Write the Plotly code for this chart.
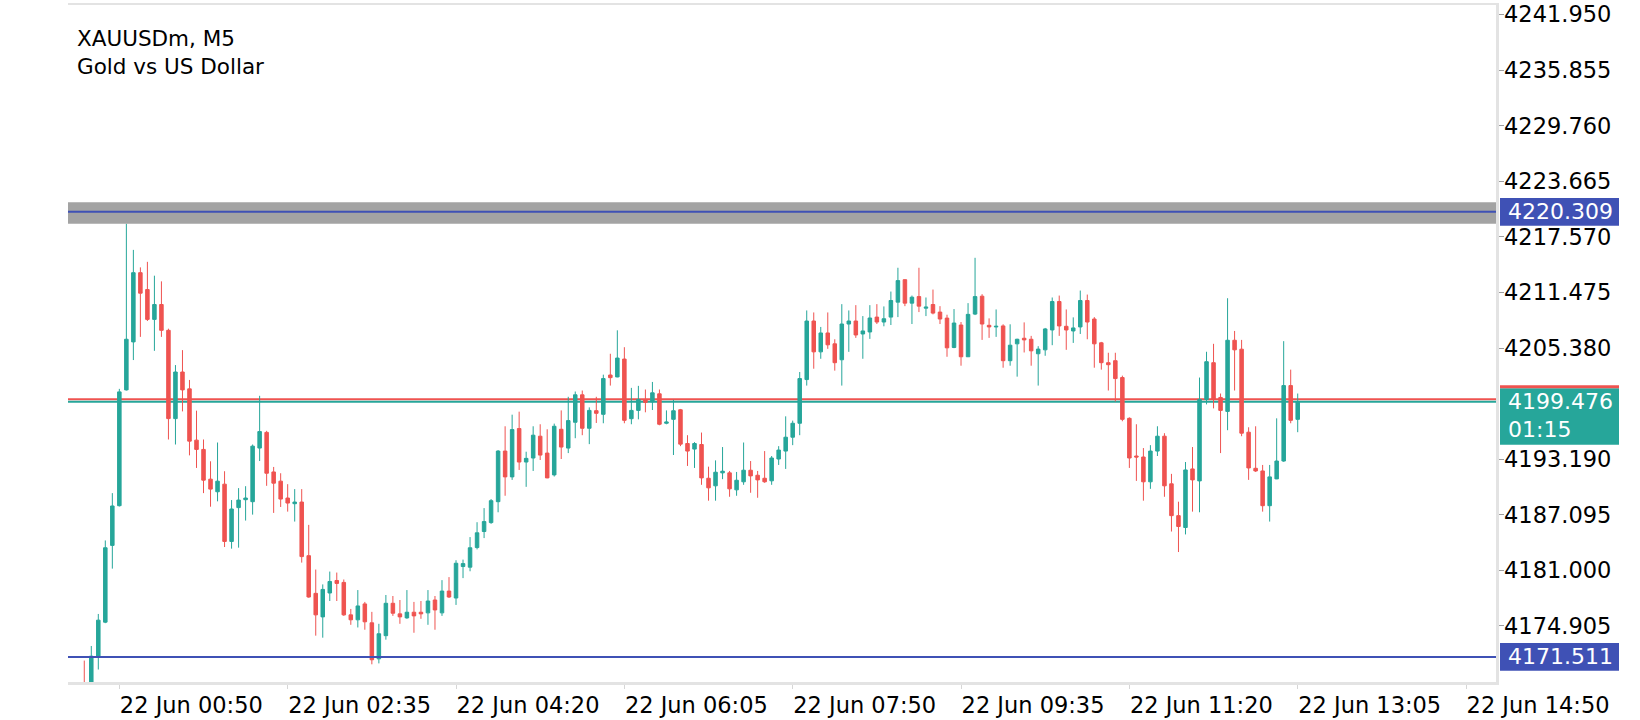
import plotly.graph_objects as go

# ---------------- data ----------------
symbol_line = "XAUUSDm, M5"
desc_line = "Gold vs US Dollar"

opens = [
    4168.60, 4167.20, 4171.53, 4175.32, 4183.74, 4188.09, 4200.79, 4206.05, 4213.64, 4211.79,
    4208.52, 4210.15, 4207.32, 4197.64, 4202.75, 4200.90, 4195.28, 4194.26, 4191.00, 4189.62,
    4190.45, 4184.17, 4187.88, 4188.75, 4188.53, 4194.41, 4196.13, 4191.79, 4190.78, 4188.93,
    4188.31, 4188.49, 4182.61, 4178.48, 4175.90, 4178.52, 4179.89, 4179.68, 4176.12, 4175.58,
    4177.32, 4175.25, 4171.30, 4173.84, 4177.39, 4176.23, 4175.79, 4176.41, 4176.41, 4176.34,
    4177.75, 4176.34, 4178.73, 4177.97, 4181.42, 4181.35, 4183.50, 4185.26, 4186.24, 4188.53,
    4194.08, 4191.25, 4196.55, 4192.88, 4193.32, 4195.71, 4193.86, 4191.47, 4196.47, 4194.41,
    4197.24, 4200.25, 4196.58, 4198.51, 4198.11, 4202.42, 4202.21, 4204.17, 4197.63, 4198.54,
    4199.70, 4199.48, 4200.36, 4197.13, 4197.56, 4198.61, 4194.91, 4194.30, 4194.80, 4191.10,
    4190.27, 4191.69, 4191.69, 4189.83, 4190.71, 4191.98, 4191.43, 4191.10, 4190.82, 4193.21,
    4194.08, 4195.60, 4197.13, 4201.92, 4208.34, 4204.96, 4207.03, 4205.84, 4204.09, 4208.01,
    4208.34, 4206.92, 4207.14, 4208.77, 4208.23, 4208.77, 4210.41, 4212.87, 4210.30, 4211.02,
    4209.75, 4210.15, 4209.32, 4208.66, 4205.44, 4207.90, 4204.42, 4209.10, 4211.06, 4207.87,
    4207.69, 4207.80, 4203.99, 4205.84, 4206.45, 4206.34, 4204.75, 4205.18, 4207.36, 4210.48,
    4207.76, 4207.25, 4207.69, 4210.59, 4208.56, 4205.95, 4203.77, 4203.99, 4202.14, 4197.67,
    4193.54, 4193.43, 4190.71, 4194.08, 4195.71, 4190.49, 4187.00, 4185.70, 4192.12, 4190.81,
    4199.74, 4203.77, 4199.96, 4198.43, 4206.23, 4205.25, 4196.15, 4192.19, 4191.90, 4188.09,
    4191.03, 4192.99, 4201.26, 4197.56,
]
highs = [
    4171.11, 4172.71, 4176.22, 4184.28, 4189.47, 4200.90, 4219.01, 4216.14, 4214.22, 4214.83,
    4213.31, 4212.69, 4207.50, 4203.51, 4205.15, 4201.88, 4198.51, 4195.35, 4192.96, 4195.02,
    4191.87, 4188.71, 4190.02, 4190.23, 4194.80, 4200.14, 4196.30, 4192.34, 4191.65, 4190.45,
    4189.91, 4189.91, 4185.99, 4181.09, 4179.46, 4180.87, 4180.76, 4180.00, 4176.77, 4178.84,
    4177.54, 4176.45, 4175.14, 4178.30, 4178.19, 4177.75, 4178.84, 4177.54, 4177.64, 4178.84,
    4178.19, 4179.93, 4180.26, 4182.11, 4182.18, 4184.65, 4186.28, 4187.83, 4188.82, 4194.19,
    4196.80, 4198.07, 4198.40, 4194.01, 4196.80, 4197.02, 4196.47, 4197.09, 4198.54, 4200.03,
    4200.61, 4200.72, 4198.87, 4200.03, 4202.46, 4204.75, 4207.32, 4205.47, 4201.01, 4201.23,
    4200.83, 4201.66, 4200.83, 4198.54, 4199.70, 4198.70, 4195.82, 4195.06, 4196.11, 4192.37,
    4193.06, 4194.52, 4191.90, 4191.79, 4195.02, 4192.99, 4191.90, 4194.08, 4193.54, 4194.62,
    4197.89, 4197.42, 4202.75, 4209.50, 4209.28, 4207.69, 4209.28, 4206.34, 4210.19, 4209.50,
    4210.08, 4208.88, 4210.08, 4210.19, 4209.94, 4211.57, 4214.18, 4212.90, 4211.13, 4214.18,
    4210.92, 4211.79, 4209.97, 4209.03, 4209.65, 4208.23, 4210.30, 4215.27, 4211.28, 4208.63,
    4209.61, 4207.98, 4207.98, 4206.40, 4208.19, 4206.71, 4205.58, 4207.58, 4210.92, 4211.13,
    4209.61, 4208.74, 4211.68, 4211.24, 4208.77, 4206.05, 4204.86, 4204.86, 4202.35, 4197.78,
    4197.02, 4194.41, 4194.73, 4196.80, 4196.04, 4191.58, 4188.53, 4192.88, 4194.52, 4202.14,
    4204.97, 4205.84, 4200.39, 4210.84, 4207.25, 4206.27, 4196.69, 4196.80, 4192.56, 4192.56,
    4197.67, 4206.13, 4203.01, 4200.39,
]
lows = [
    4165.80, 4166.50, 4170.13, 4175.21, 4181.19, 4188.00, 4200.72, 4204.06, 4206.60, 4208.34,
    4205.07, 4206.60, 4195.35, 4194.80, 4198.43, 4193.61, 4192.23, 4189.47, 4187.98, 4188.57,
    4183.56, 4183.38, 4183.49, 4186.46, 4187.11, 4192.99, 4190.27, 4187.30, 4187.95, 4187.44,
    4186.35, 4181.85, 4178.00, 4173.84, 4173.62, 4177.64, 4177.64, 4176.01, 4175.03, 4174.74,
    4174.49, 4170.70, 4170.80, 4173.40, 4176.01, 4175.14, 4175.69, 4174.16, 4175.69, 4175.03,
    4174.49, 4176.01, 4177.97, 4177.21, 4180.15, 4180.90, 4183.30, 4184.54, 4186.10, 4187.37,
    4189.18, 4190.92, 4192.01, 4190.16, 4191.90, 4193.10, 4191.10, 4191.29, 4193.21, 4193.86,
    4195.49, 4195.82, 4194.84, 4197.16, 4197.13, 4201.26, 4202.17, 4197.13, 4197.02, 4197.56,
    4198.33, 4198.58, 4196.91, 4197.02, 4193.65, 4194.62, 4192.45, 4192.23, 4190.38, 4188.64,
    4188.64, 4191.00, 4189.07, 4189.18, 4190.38, 4189.51, 4188.96, 4190.60, 4190.38, 4192.56,
    4192.12, 4194.73, 4195.82, 4201.26, 4203.11, 4204.20, 4205.29, 4202.90, 4201.26, 4204.96,
    4206.49, 4204.20, 4206.38, 4208.01, 4207.76, 4207.90, 4208.77, 4209.97, 4208.01, 4209.32,
    4208.88, 4209.07, 4208.01, 4204.42, 4205.36, 4203.44, 4204.40, 4208.99, 4206.27, 4206.49,
    4206.60, 4203.22, 4203.44, 4202.24, 4204.89, 4203.44, 4201.26, 4204.53, 4205.69, 4206.71,
    4205.18, 4205.94, 4206.92, 4206.34, 4203.22, 4203.01, 4200.72, 4199.52, 4197.35, 4192.23,
    4190.81, 4188.64, 4189.94, 4193.54, 4189.07, 4185.26, 4183.01, 4184.94, 4187.44, 4187.37,
    4199.20, 4198.76, 4193.86, 4196.37, 4200.72, 4195.71, 4190.92, 4191.79, 4187.44, 4186.35,
    4191.00, 4192.90, 4197.13, 4196.15,
]
closes = [
    4167.20, 4171.59, 4175.54, 4183.48, 4188.06, 4200.57, 4206.34, 4213.64, 4211.39, 4208.52,
    4210.15, 4207.32, 4197.64, 4202.75, 4200.79, 4195.17, 4194.26, 4190.89, 4189.91, 4190.78,
    4184.17, 4187.73, 4188.71, 4188.93, 4194.62, 4196.22, 4191.65, 4190.56, 4188.82, 4188.38,
    4188.49, 4182.51, 4178.08, 4176.12, 4178.91, 4179.78, 4179.57, 4176.12, 4175.58, 4177.10,
    4175.36, 4171.20, 4174.05, 4177.39, 4176.30, 4175.90, 4176.41, 4176.01, 4176.23, 4177.64,
    4176.66, 4178.73, 4178.08, 4181.78, 4181.74, 4183.48, 4185.12, 4186.35, 4188.64, 4194.08,
    4191.25, 4196.44, 4192.88, 4193.28, 4195.82, 4193.64, 4191.14, 4196.80, 4194.52, 4197.42,
    4200.25, 4196.58, 4198.54, 4198.22, 4202.03, 4202.13, 4204.28, 4197.45, 4198.54, 4199.74,
    4199.41, 4200.47, 4197.02, 4197.27, 4198.50, 4194.84, 4194.08, 4194.91, 4191.14, 4190.05,
    4191.76, 4191.87, 4189.94, 4190.88, 4191.98, 4191.36, 4190.92, 4190.71, 4193.32, 4194.19,
    4195.60, 4197.13, 4202.03, 4208.34, 4204.96, 4207.03, 4205.73, 4203.77, 4208.01, 4208.34,
    4206.81, 4207.25, 4208.67, 4208.23, 4208.59, 4210.59, 4212.77, 4210.30, 4210.95, 4209.97,
    4209.86, 4209.21, 4208.56, 4205.40, 4208.12, 4204.42, 4209.07, 4211.02, 4208.01, 4207.69,
    4207.76, 4203.99, 4205.69, 4206.34, 4206.27, 4205.07, 4205.26, 4207.47, 4210.48, 4207.80,
    4207.36, 4207.58, 4210.59, 4208.23, 4205.84, 4203.77, 4203.55, 4202.03, 4197.56, 4193.32,
    4193.43, 4190.71, 4194.08, 4195.71, 4190.27, 4187.00, 4185.81, 4192.01, 4190.92, 4199.74,
    4203.88, 4199.74, 4198.54, 4206.23, 4205.18, 4196.04, 4192.23, 4191.90, 4188.09, 4191.25,
    4192.99, 4201.26, 4197.45, 4199.476,
]

tick_bars = [5, 29, 53, 77, 101, 125, 149, 173, 197]
tick_labels = ["22 Jun 00:50", "22 Jun 02:35", "22 Jun 04:20", "22 Jun 06:05",
               "22 Jun 07:50", "22 Jun 09:35", "22 Jun 11:20", "22 Jun 13:05",
               "22 Jun 14:50"]
price_ticks = [4241.950, 4235.855, 4229.760, 4223.665, 4217.570, 4211.475,
               4205.380, 4193.190, 4187.095, 4181.000, 4174.905]
level_lines = [4220.309, 4171.511]
bid_price = 4199.476
ask_price = 4199.756
timer_text = "01:15"

# ---------------- style ----------------
W, H = 1640, 720
M_L, M_R, M_T, M_B = 68, 144, 2, 36
X_RANGE = [-2.32, 201.27]
Y_RANGE = [4168.76, 4242.99]
FONT = "DejaVu Sans"
UP, DOWN = "#26a69a", "#ef5350"
BLUE = "#3f51b5"
FRAME = "#e3e3e3"

bars = list(range(len(opens)))

fig = go.Figure()
fig.add_trace(go.Candlestick(
    x=bars, open=opens, high=highs, low=lows, close=closes,
    increasing=dict(line=dict(color=UP, width=1), fillcolor=UP),
    decreasing=dict(line=dict(color=DOWN, width=1), fillcolor=DOWN),
    whiskerwidth=0, hoverinfo="skip", showlegend=False,
))

shapes = []
# bid / ask lines
for price, col in ((ask_price, DOWN), (bid_price, UP)):
    shapes.append(dict(type="line", xref="paper", x0=0, x1=1, yref="y",
                       y0=price, y1=price, line=dict(color=col, width=2),
                       layer="below"))
# selected level highlight band
shapes.append(dict(type="rect", xref="paper", x0=0, x1=1, yref="y",
                   ysizemode="pixel", yanchor=level_lines[0], y0=-12, y1=9.7,
                   fillcolor="#a3a3a3", line=dict(width=0), layer="above"))
for lv in level_lines:
    shapes.append(dict(type="line", xref="paper", x0=0, x1=1, yref="y",
                       y0=lv, y1=lv, line=dict(color=BLUE, width=2),
                       layer="above"))
    shapes.append(dict(type="rect", xref="paper", xsizemode="pixel", xanchor=1,
                       x0=4, x1=123, yref="y", ysizemode="pixel", yanchor=lv,
                       y0=-13.8, y1=13.8, fillcolor=BLUE, line=dict(width=0),
                       layer="above"))
# bid price box (green) with red top strip
shapes.append(dict(type="rect", xref="paper", xsizemode="pixel", xanchor=1,
                   x0=4, x1=123, yref="y", ysizemode="pixel", yanchor=bid_price,
                   y0=-42.9, y1=13.5, fillcolor=UP, line=dict(width=0),
                   layer="above"))
shapes.append(dict(type="rect", xref="paper", xsizemode="pixel", xanchor=1,
                   x0=4, x1=123, yref="y", ysizemode="pixel", yanchor=bid_price,
                   y0=13.5, y1=16.5, fillcolor=DOWN, line=dict(width=0),
                   layer="above"))

annotations = [
    dict(text=f"{symbol_line}<br>{desc_line}", xref="paper", yref="paper",
         x=0, y=1, xanchor="left", yanchor="top", xshift=7, yshift=-19,
         align="left", showarrow=False,
         font=dict(family=FONT, size=21.5, color="#000000")),
]
for lv in level_lines:
    annotations.append(dict(text=f"{lv:.3f}", xref="paper", x=1, xanchor="left",
                            xshift=10, yref="y", y=lv, yanchor="middle",
                            showarrow=False,
                            font=dict(family=FONT, size=22, color="#ffffff")))
annotations.append(dict(text=f"{bid_price:.3f}", xref="paper", x=1, xanchor="left",
                        xshift=10, yref="y", y=bid_price, yanchor="middle",
                        showarrow=False,
                        font=dict(family=FONT, size=22, color="#ffffff")))
annotations.append(dict(text=timer_text, xref="paper", x=1, xanchor="left",
                        xshift=10, yref="y", y=bid_price, yanchor="middle",
                        yshift=-27.3, showarrow=False,
                        font=dict(family=FONT, size=22, color="#ffffff")))

fig.update_layout(
    width=W, height=H,
    margin=dict(l=M_L, r=M_R, t=M_T, b=M_B, pad=0),
    paper_bgcolor="#ffffff", plot_bgcolor="#ffffff",
    boxgap=0.5, boxgroupgap=0,
    showlegend=False,
    shapes=shapes, annotations=annotations,
    xaxis=dict(
        range=X_RANGE, rangeslider=dict(visible=False), type="linear",
        tickmode="array", tickvals=tick_bars, ticktext=tick_labels,
        ticks="outside", ticklen=4, tickwidth=1, tickcolor="#d6d6d6",
        ticklabelshift=72, ticklabelstandoff=-3,
        tickfont=dict(family=FONT, size=22.5, color="#000000"),
        showline=True, linecolor=FRAME, linewidth=2.5, mirror=True,
        showgrid=False, zeroline=False, fixedrange=True,
    ),
    yaxis=dict(
        range=Y_RANGE, side="right",
        tickmode="array", tickvals=price_ticks, tickformat=".3f",
        ticks="outside", ticklen=5, tickwidth=1, tickcolor="#9e9e9e",
        ticklabelstandoff=-4,
        tickfont=dict(family=FONT, size=22.5, color="#000000"),
        showline=True, linecolor=FRAME, linewidth=2.5,
        showgrid=False, zeroline=False, fixedrange=True,
    ),
)

fig.write_html(
    "out.html",
    config={"displayModeBar": False, "staticPlot": True},
    post_script="document.body.style.margin='0px';"
                "document.body.style.overflow='hidden';",
)
